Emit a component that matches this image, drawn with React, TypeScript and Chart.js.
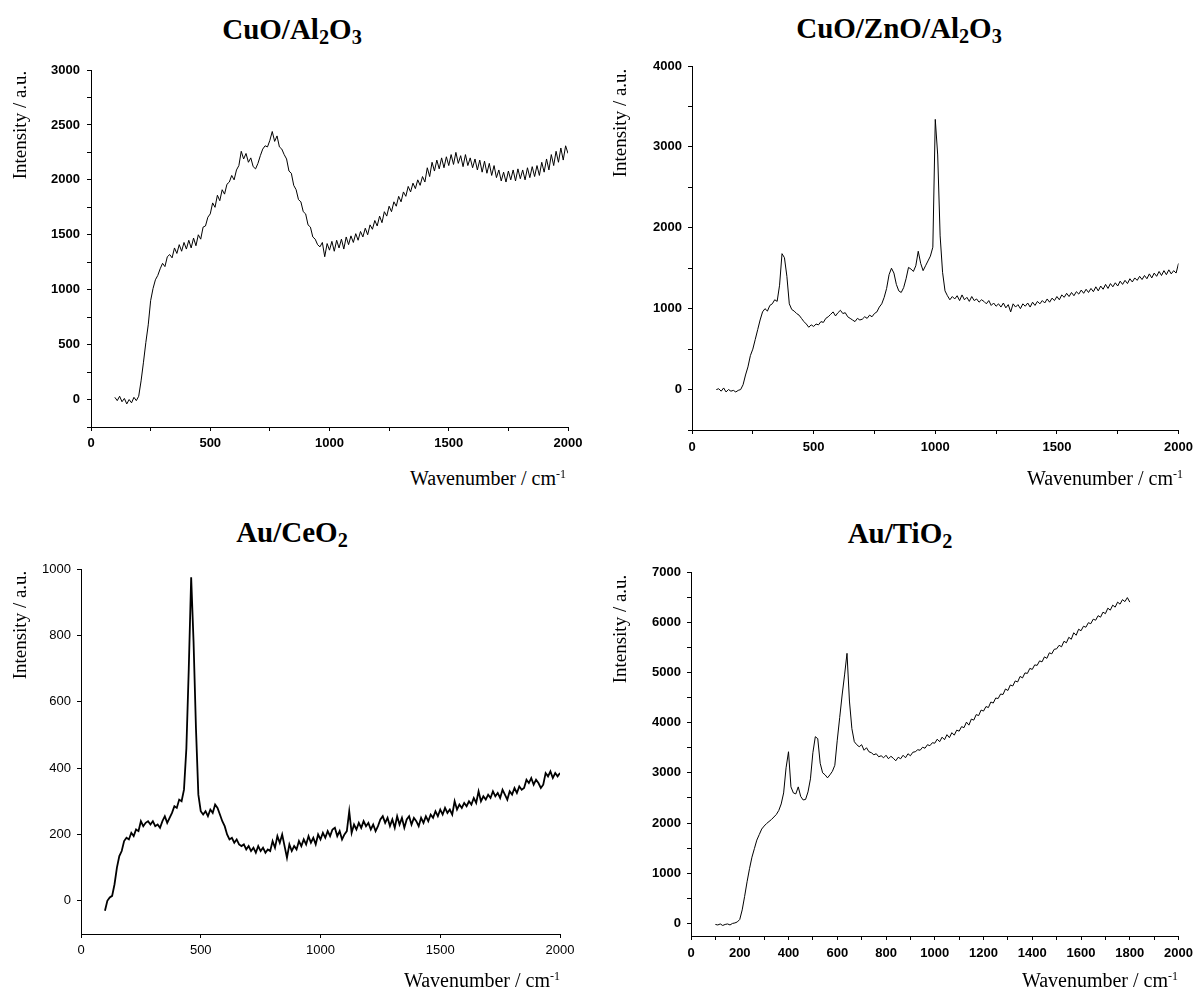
import React, { useEffect, useRef } from "react";
import { Chart, registerables } from "chart.js";

Chart.register(...registerables);

// Raman shift sampling grid, cm^-1
const WAVENUMBERS = [
  100, 110, 120, 130, 140, 150, 160, 170, 180, 190,
  200, 210, 220, 230, 240, 250, 260, 270, 280, 290,
  300, 310, 320, 330, 340, 350, 360, 370, 380, 390,
  400, 410, 420, 430, 440, 450, 460, 470, 480, 490,
  500, 510, 520, 530, 540, 550, 560, 570, 580, 590,
  600, 610, 620, 630, 640, 650, 660, 670, 680, 690,
  700, 710, 720, 730, 740, 750, 760, 770, 780, 790,
  800, 810, 820, 830, 840, 850, 860, 870, 880, 890,
  900, 910, 920, 930, 940, 950, 960, 970, 980, 990,
  1000, 1010, 1020, 1030, 1040, 1050, 1060, 1070, 1080, 1090,
  1100, 1110, 1120, 1130, 1140, 1150, 1160, 1170, 1180, 1190,
  1200, 1210, 1220, 1230, 1240, 1250, 1260, 1270, 1280, 1290,
  1300, 1310, 1320, 1330, 1340, 1350, 1360, 1370, 1380, 1390,
  1400, 1410, 1420, 1430, 1440, 1450, 1460, 1470, 1480, 1490,
  1500, 1510, 1520, 1530, 1540, 1550, 1560, 1570, 1580, 1590,
  1600, 1610, 1620, 1630, 1640, 1650, 1660, 1670, 1680, 1690,
  1700, 1710, 1720, 1730, 1740, 1750, 1760, 1770, 1780, 1790,
  1800, 1810, 1820, 1830, 1840, 1850, 1860, 1870, 1880, 1890,
  1900, 1910, 1920, 1930, 1940, 1950, 1960, 1970, 1980, 1990,
  2000,
];

// CuO/Al2O3 intensity (a.u.)
const CUO_AL2O3 = [
  20, -10, 30, -20, 10, -40, 0, -30, 20, -10,
  30, 170, 340, 520, 680, 900, 1010, 1090, 1130, 1190,
  1240, 1210, 1300, 1320, 1290, 1380, 1330, 1410, 1350, 1430,
  1370, 1450, 1380, 1470, 1400, 1500, 1460, 1570, 1580, 1660,
  1690, 1790, 1750, 1860, 1810, 1910, 1870, 1960, 1980, 2040,
  2000, 2090, 2130, 2260, 2190, 2240, 2160, 2200, 2120, 2100,
  2150, 2220, 2280, 2310, 2300, 2360, 2440, 2350, 2400, 2300,
  2280, 2230, 2190, 2080, 2060, 1950, 1910, 1820, 1800, 1710,
  1690, 1590, 1570, 1480, 1460, 1410, 1390, 1430, 1300, 1420,
  1360, 1440, 1350, 1450, 1380, 1460, 1370, 1480, 1410, 1490,
  1430, 1510, 1450, 1530, 1480, 1560, 1500, 1590, 1550, 1630,
  1580, 1670, 1610, 1710, 1670, 1760, 1710, 1800, 1760, 1850,
  1800, 1890, 1850, 1940, 1890, 1970, 1920, 2000, 1950, 2030,
  1980, 2110, 2030, 2160, 2080, 2180, 2100, 2200, 2110, 2210,
  2130, 2230, 2140, 2250, 2150, 2220, 2120, 2230, 2130, 2200,
  2110, 2190, 2090, 2180, 2070, 2170, 2060, 2150, 2040, 2130,
  2020, 2090, 1990, 2070, 1980, 2080, 2000, 2090, 1990, 2100,
  2010, 2090, 2000, 2110, 2020, 2120, 2030, 2130, 2040, 2160,
  2070, 2190, 2090, 2230, 2130, 2260, 2160, 2290, 2180, 2310,
  2240,
];

// CuO/ZnO/Al2O3 intensity (a.u.)
const CUO_ZNO_AL2O3 = [
  0, 10, -20, 20, -30, 0, -20, -10, -30, -10,
  0, 60, 180, 280, 420, 500, 620, 740, 860, 960,
  1000, 970, 1040, 1060, 1110, 1090, 1290, 1680, 1630, 1400,
  1060, 990, 970, 940, 920, 880, 840, 810, 770, 800,
  780, 810, 800, 840, 830, 880, 900, 930, 960, 910,
  950, 980, 940, 950, 900, 880, 860, 840, 880, 860,
  870, 900, 880, 920, 900, 940, 960, 1020, 1060, 1140,
  1250, 1420, 1500, 1440, 1300, 1220, 1200, 1260, 1370, 1510,
  1490, 1460, 1530, 1710, 1560, 1470, 1530, 1590, 1650, 1760,
  3340, 2900, 1900, 1450, 1220, 1160, 1110, 1150, 1120, 1160,
  1100, 1170, 1110, 1140, 1090, 1150, 1100, 1120, 1080, 1110,
  1090, 1060, 1100, 1040, 1070, 1030, 1060, 1020, 1070, 1010,
  1050, 960, 1060, 1020, 1050, 1000, 1060, 1030, 1070, 1020,
  1080, 1040, 1090, 1060, 1100, 1070, 1120, 1080, 1130, 1100,
  1150, 1110, 1170, 1140, 1190, 1150, 1200, 1160, 1210, 1180,
  1230, 1190, 1240, 1200, 1250, 1210, 1270, 1220, 1280, 1240,
  1300, 1250, 1310, 1270, 1320, 1280, 1340, 1300, 1350, 1310,
  1370, 1330, 1380, 1350, 1400, 1360, 1410, 1370, 1430, 1380,
  1440, 1400, 1460, 1410, 1470, 1420, 1480, 1430, 1470, 1440,
  1560,
];

// Au/CeO2 intensity (a.u.)
const AU_CEO2 = [
  -30, 0, 10, 15, 50, 100, 135, 150, 180, 190,
  185, 205, 195, 215, 210, 240, 225, 235, 240, 230,
  240, 225, 230, 220, 240, 255, 235, 250, 265, 285,
  280, 305, 300, 335, 460, 700, 975, 780, 520, 320,
  270, 260, 270, 255, 275, 265, 290, 280, 260, 240,
  225, 200, 185, 190, 175, 185, 170, 165, 170, 155,
  165, 150, 160, 145, 165, 150, 160, 145, 155, 150,
  180, 160, 195, 175, 200, 165, 130, 170, 150, 165,
  155, 180, 165, 185, 170, 195, 175, 190, 170, 200,
  185, 205, 190, 210, 195, 215, 220, 195, 210, 185,
  200, 210, 270, 205, 230, 215, 235, 220, 240, 225,
  235, 215, 230, 210, 225, 245, 255, 235, 250, 225,
  245, 220, 255, 230, 250, 220, 245, 255, 230, 250,
  240, 225, 250, 235, 255, 240, 260, 250, 270, 255,
  275, 260, 280, 265, 275, 260, 300, 275, 290, 280,
  295, 285, 300, 290, 310, 295, 330, 300, 315, 305,
  320, 310, 330, 315, 325, 310, 335, 320, 305, 330,
  320, 340, 325, 345, 335, 340, 365, 355, 370, 350,
  365, 355, 340, 350, 385, 375, 390, 370, 385, 375,
  385,
];

// Au/TiO2 intensity (a.u.), measured 100-1800 cm^-1
const AU_TIO2 = [
  -20, -30, -10, -40, -20, -10, -30, 0, 10, 30,
  80, 270, 540, 830, 1090, 1320, 1490, 1660, 1770, 1880,
  1940, 1990, 2030, 2070, 2120, 2170, 2250, 2380, 2600, 3100,
  3420, 2720, 2600, 2580, 2720, 2530, 2460, 2470, 2620, 2880,
  3400, 3720, 3680, 3190, 3000, 2960, 2900, 2960, 3030, 3150,
  3650, 4100, 4550, 4950, 5380, 4430, 3880, 3620, 3560, 3520,
  3560, 3450, 3500, 3420, 3400, 3360, 3380, 3320, 3340, 3300,
  3350, 3280, 3330, 3290, 3240, 3310, 3280, 3350, 3300, 3380,
  3340, 3410, 3420, 3460, 3450, 3510, 3490, 3560, 3540, 3600,
  3590, 3670, 3620, 3710, 3660, 3760, 3700, 3800, 3750, 3850,
  3830, 3920, 3900, 4010, 3950, 4070, 4050, 4160, 4140, 4250,
  4230, 4320, 4300, 4410, 4390, 4490, 4480, 4570, 4560, 4670,
  4640, 4750, 4730, 4830, 4810, 4920, 4890, 4990, 4980, 5080,
  5060, 5150, 5140, 5230, 5210, 5310, 5280, 5390, 5370, 5460,
  5470, 5540, 5510, 5620, 5590, 5700, 5660, 5790, 5740, 5860,
  5830, 5920, 5900, 5990, 5970, 6060, 6040, 6130, 6100, 6200,
  6170, 6280, 6240, 6340, 6300, 6400, 6360, 6450, 6410, 6490,
  6400,
];

// Axis tick positions (labels shown only on the major ones)
const X_TICKS_250 = [0, 250, 500, 750, 1000, 1250, 1500, 1750, 2000];
const X_TICKS_500 = [0, 500, 1000, 1500, 2000];
const X_TICKS_100 = [
  0, 100, 200, 300, 400, 500, 600, 700, 800, 900, 1000,
  1100, 1200, 1300, 1400, 1500, 1600, 1700, 1800, 1900, 2000,
];
const Y_TICKS_CUO_AL2O3 = [
  -250, 0, 250, 500, 750, 1000, 1250, 1500, 1750, 2000, 2250, 2500, 2750, 3000,
];
const Y_TICKS_CUO_ZNO = [-500, 0, 500, 1000, 1500, 2000, 2500, 3000, 3500, 4000];
const Y_TICKS_AU_CEO2 = [0, 200, 400, 600, 800, 1000];
const Y_TICKS_AU_TIO2 = [
  0, 500, 1000, 1500, 2000, 2500, 3000, 3500, 4000, 4500, 5000, 5500, 6000, 6500, 7000,
];

const TICK_FONT = "'Liberation Sans', Arial, Helvetica, sans-serif";
const SERIF = "'Liberation Serif', 'Times New Roman', Times, serif";

type PanelProps = {
  left: number;
  top: number;
  width: number;
  height: number;
  values: number[];
  xTicks: number[];
  xMajor: number;
  yMin: number;
  yMax: number;
  yTicks: number[];
  yMajor: number;
  yAxisWidth: number;
  xAxisHeight: number;
  padTop: number;
  padRight: number;
  lineWidth: number;
  fontSize: number;
  fontWeight: string;
  xPad: number;
  yPad: number;
};

const majorLabel = (major: number) => (value: number | string) => {
  const v = Number(value);
  return v >= 0 && Math.abs(v % major) < 1e-6 ? String(v) : "";
};

function SpectrumChart(p: PanelProps) {
  const ref = useRef<HTMLCanvasElement>(null);
  useEffect(() => {
    if (!ref.current) return;
    const points = p.values.map((v, i) => ({ x: WAVENUMBERS[i], y: v }));
    const axisCommon = {
      type: "linear" as const,
      border: { display: true, color: "#000", width: 1 },
      grid: {
        display: true,
        drawOnChartArea: false,
        drawTicks: true,
        tickLength: 4,
        tickWidth: 1,
        tickColor: "#000",
        color: "#000",
      },
    };
    const chart = new Chart(ref.current, {
      type: "line",
      data: {
        datasets: [
          {
            data: points,
            borderColor: "#000",
            borderWidth: p.lineWidth,
            pointRadius: 0,
            tension: 0,
            fill: false,
          },
        ],
      },
      options: {
        responsive: false,
        maintainAspectRatio: false,
        animation: false,
        parsing: false,
        normalized: true,
        events: [],
        layout: { padding: { top: p.padTop, right: p.padRight, bottom: 0, left: 0 } },
        plugins: {
          legend: { display: false },
          tooltip: { enabled: false },
          title: { display: false },
        },
        scales: {
          x: {
            ...axisCommon,
            position: "bottom",
            min: 0,
            max: 2000,
            afterBuildTicks: (scale: any) => {
              scale.ticks = p.xTicks.map((value) => ({ value }));
            },
            afterFit: (scale: any) => {
              scale.height = p.xAxisHeight;
            },
            ticks: {
              autoSkip: false,
              maxRotation: 0,
              minRotation: 0,
              padding: p.xPad,
              color: "#000",
              font: { family: TICK_FONT, size: p.fontSize, weight: p.fontWeight },
              callback: majorLabel(p.xMajor),
            },
          },
          y: {
            ...axisCommon,
            position: "left",
            min: p.yMin,
            max: p.yMax,
            afterBuildTicks: (scale: any) => {
              scale.ticks = p.yTicks.map((value) => ({ value }));
            },
            afterFit: (scale: any) => {
              scale.width = p.yAxisWidth;
            },
            ticks: {
              autoSkip: false,
              padding: p.yPad,
              color: "#000",
              font: { family: TICK_FONT, size: p.fontSize, weight: p.fontWeight },
              callback: majorLabel(p.yMajor),
            },
          },
        },
      } as any,
    });
    return () => chart.destroy();
  }, []);
  return (
    <canvas
      ref={ref}
      width={p.width}
      height={p.height}
      style={{ position: "absolute", left: p.left, top: p.top, width: p.width, height: p.height }}
    />
  );
}

const sub = (t: string) => (
  <span style={{ fontSize: "0.7em", position: "relative", top: "0.25em" }}>{t}</span>
);

function Title({ cx, top, children }: { cx: number; top: number; children: React.ReactNode }) {
  return (
    <div
      style={{
        position: "absolute",
        left: cx - 200,
        top,
        width: 400,
        textAlign: "center",
        fontFamily: SERIF,
        fontWeight: "bold",
        fontSize: 29,
        lineHeight: "29px",
        color: "#000",
        whiteSpace: "nowrap",
      }}
    >
      {children}
    </div>
  );
}

function YTitle({ cx, cy }: { cx: number; cy: number }) {
  return (
    <div
      style={{
        position: "absolute",
        left: cx - 100,
        top: cy - 12,
        width: 200,
        height: 24,
        lineHeight: "24px",
        textAlign: "center",
        fontFamily: SERIF,
        fontSize: 19,
        color: "#000",
        transform: "rotate(-90deg)",
        transformOrigin: "50% 50%",
        whiteSpace: "nowrap",
      }}
    >
      Intensity / a.u.
    </div>
  );
}

function XTitle({ right, top }: { right: number; top: number }) {
  return (
    <div
      style={{
        position: "absolute",
        left: right - 300,
        top,
        width: 300,
        textAlign: "right",
        fontFamily: SERIF,
        fontSize: 20,
        lineHeight: "20px",
        color: "#000",
        whiteSpace: "nowrap",
      }}
    >
      Wavenumber / cm
      <span style={{ fontSize: "0.6em", position: "relative", top: "-0.55em" }}>-1</span>
    </div>
  );
}

export default function App() {
  return (
    <div
      style={{
        position: "absolute",
        left: 0,
        top: 0,
        width: 1199,
        height: 989,
        background: "#fff",
        overflow: "hidden",
      }}
    >
      <Title cx={292} top={15}>
        CuO/Al{sub("2")}O{sub("3")}
      </Title>
      <Title cx={899} top={14}>
        CuO/ZnO/Al{sub("2")}O{sub("3")}
      </Title>
      <Title cx={292} top={518}>
        Au/CeO{sub("2")}
      </Title>
      <Title cx={900} top={519}>
        Au/TiO{sub("2")}
      </Title>

      <SpectrumChart
        left={0} top={50} width={600} height={417}
        values={CUO_AL2O3}
        xTicks={X_TICKS_250} xMajor={500}
        yMin={-250} yMax={3000} yTicks={Y_TICKS_CUO_AL2O3} yMajor={500}
        yAxisWidth={91} xAxisHeight={40} padTop={20} padRight={32}
        lineWidth={1} fontSize={13} fontWeight="bold" xPad={5} yPad={7}
      />
      <SpectrumChart
        left={600} top={46} width={599} height={424}
        values={CUO_ZNO_AL2O3}
        xTicks={X_TICKS_250} xMajor={500}
        yMin={-500} yMax={4000} yTicks={Y_TICKS_CUO_ZNO} yMajor={1000}
        yAxisWidth={92} xAxisHeight={40} padTop={20} padRight={17}
        lineWidth={1} fontSize={13} fontWeight="bold" xPad={6} yPad={6}
      />
      <SpectrumChart
        left={0} top={549} width={600} height={425}
        values={AU_CEO2}
        xTicks={X_TICKS_500} xMajor={500}
        yMin={-100} yMax={1000} yTicks={Y_TICKS_AU_CEO2} yMajor={200}
        yAxisWidth={81} xAxisHeight={40} padTop={20} padRight={40}
        lineWidth={1.8} fontSize={13} fontWeight="normal" xPad={5} yPad={6}
      />
      <SpectrumChart
        left={600} top={552} width={599} height={424}
        values={AU_TIO2}
        xTicks={X_TICKS_100} xMajor={200}
        yMin={-250} yMax={7000} yTicks={Y_TICKS_AU_TIO2} yMajor={1000}
        yAxisWidth={91} xAxisHeight={40} padTop={20} padRight={17}
        lineWidth={1} fontSize={13} fontWeight="bold" xPad={6} yPad={6}
      />

      <YTitle cx={20} cy={125} />
      <YTitle cx={620} cy={123} />
      <YTitle cx={20} cy={625} />
      <YTitle cx={620} cy={629} />

      <XTitle right={566} top={468} />
      <XTitle right={1183} top={468} />
      <XTitle right={560} top={970} />
      <XTitle right={1178} top={970} />
    </div>
  );
}
